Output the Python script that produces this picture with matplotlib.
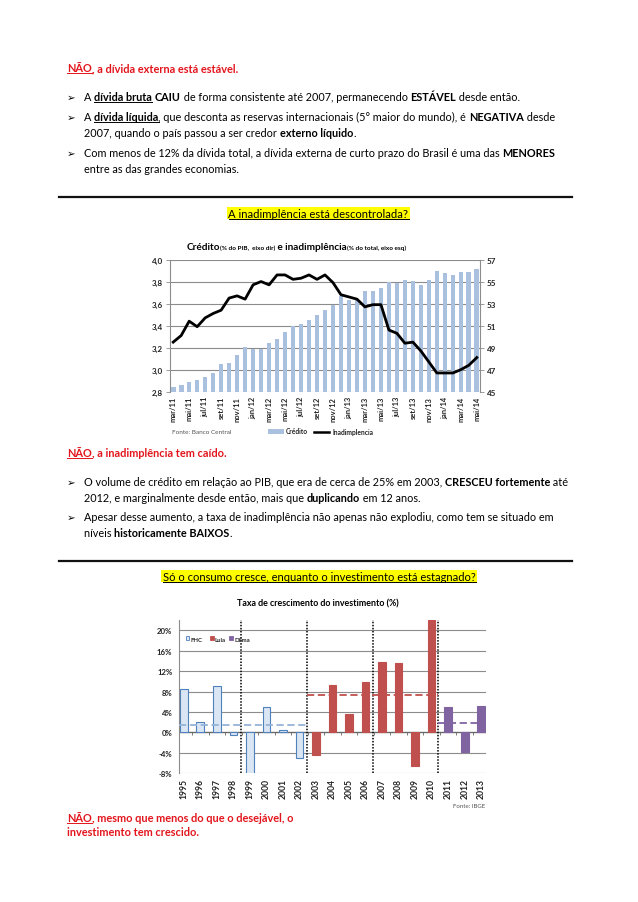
import matplotlib.pyplot as plt
from matplotlib.lines import Line2D
from matplotlib.patches import Rectangle

W, H = 638, 903
FONT = ['Lato', 'DejaVu Sans']
RED = '#e3151d'
plt.rcParams['font.family'] = FONT

# grafico 1: credito (% do PIB, eixo dir) e inadimplencia (%, eixo esq), mar/11 a mai/14
credito = [45.45, 45.64, 45.9, 46.1, 46.36, 46.7, 47.5, 47.6, 48.3, 49.1,
           48.9, 48.9, 49.4, 49.8, 50.45, 51.0, 51.1, 51.5, 52.0, 52.45,
           52.9, 53.7, 53.3, 53.4, 54.1, 54.1, 54.4, 55.0, 54.85, 55.1,
           55.05, 54.7, 55.1, 55.97, 55.8, 55.6, 55.9, 55.9, 56.1]
inadimplencia = [3.25, 3.31, 3.44, 3.39, 3.47, 3.51, 3.54, 3.65, 3.67, 3.64,
                 3.77, 3.80, 3.77, 3.86, 3.86, 3.82, 3.83, 3.86, 3.82, 3.86,
                 3.79, 3.68, 3.66, 3.64, 3.57, 3.59, 3.59, 3.36, 3.33, 3.24,
                 3.25, 3.17, 3.07, 2.97, 2.97, 2.97, 3.0, 3.04, 3.11]
meses_labels = ['mar/11', 'mai/11', 'jul/11', 'set/11', 'nov/11', 'jan/12', 'mar/12',
                'mai/12', 'jul/12', 'set/12', 'nov/12', 'jan/13', 'mar/13', 'mai/13',
                'jul/13', 'set/13', 'nov/13', 'jan/14', 'mar/14', 'mai/14']
esq_ticks = [2.8, 3.0, 3.2, 3.4, 3.6, 3.8, 4.0]
dir_ticks = [45, 47, 49, 51, 53, 55, 57]

# grafico 2: taxa de crescimento do investimento (%)
anos = ['1995', '1996', '1997', '1998', '1999', '2000', '2001', '2002', '2003', '2004',
        '2005', '2006', '2007', '2008', '2009', '2010', '2011', '2012', '2013']
investimento = [8.5, 2.0, 9.0, -0.5, -8.2, 5.0, 0.5, -5.0, -4.4, 9.2,
                3.7, 9.8, 13.8, 13.6, -6.6, 22.0, 4.9, -3.9, 5.2]
governo = ['FHC'] * 8 + ['Lula'] * 8 + ['Dilma'] * 3
media = {'FHC': 1.4, 'Lula': 7.3, 'Dilma': 1.8}
inv_ticks = [-8, -4, 0, 4, 8, 12, 16, 20]

fig = plt.figure(figsize=(W / 100, H / 100), dpi=100)
renderer = fig.canvas.get_renderer()


def fx(x):
    return x / W


def fy(y):
    return 1 - y / H


def text_w(s, size, bold):
    t = fig.text(0, 0, s, fontsize=size, fontweight='bold' if bold else 'normal')
    w = t.get_window_extent(renderer).width
    t.remove()
    return w


def run_w(s, size, bold):
    # avanço real do texto (inclui espaços nas pontas)
    return text_w('|' + s + '|', size, bold) - text_w('||', size, bold)


def runs_w(runs, size):
    return sum(run_w(r[0], r[3] if len(r) > 3 else size, r[1]) for r in runs)


def fit(runs, target, base=7.0):
    return base * target / runs_w(runs, base)


def rich(x, y, runs, size, color='black'):
    for r in runs:
        s, bold, ul = r[0], r[1], r[2]
        sz = r[3] if len(r) > 3 else size
        w = run_w(s, sz, bold)
        fig.text(fx(x), fy(y), s, fontsize=sz, color=color, va='baseline', ha='left',
                 fontweight='bold' if bold else 'normal')
        if ul:
            fig.add_artist(Line2D([fx(x), fx(x + w)], [fy(y + 1.8)] * 2, color=color, lw=0.7))
        x += w
    return x


def bullet(y, lines, size):
    fig.text(fx(67), fy(y), '\u27a2', fontsize=size * 0.95, family='DejaVu Sans',
             va='baseline', ha='left')
    for i, runs in enumerate(lines):
        rich(84, y + i * 16, runs, size)


def heading(cx, y, s, size):
    w = run_w(s, size, False)
    x0 = cx - w / 2
    fig.add_artist(Rectangle((fx(x0 - 1.5), fy(y + 2.6)), (w + 3) / W, 12.5 / H,
                             facecolor='#ffff00', edgecolor='none'))
    rich(x0, y, [(s, False, True)], size)


# ---------------- textos ----------------
b2l1 = [('A ', 0, 0), ('dívida líquida', 1, 1),
        (', que desconta as reservas internacionais (5° maior do mundo), é ', 0, 0),
        ('NEGATIVA', 1, 0), (' desde', 0, 0)]
BODY = fit(b2l1, 469)

h1 = [('NÃO', 1, 1), (', a dívida externa está estável.', 1, 0)]
rich(67, 72.3, h1, fit(h1, 172), RED)

bullet(101, [[('A ', 0, 0), ('dívida bruta', 1, 1), (' ', 0, 0), ('CAIU', 1, 0),
              (' de forma consistente até 2007, permanecendo ', 0, 0), ('ESTÁVEL', 1, 0),
              (' desde então.', 0, 0)]], BODY)
bullet(120.7, [b2l1, [('2007, quando o país passou a ser credor ', 0, 0),
                      ('externo líquido', 1, 0), ('.', 0, 0)]], BODY)
bullet(156.7, [[('Com menos de 12% da dívida total, a dívida externa de curto prazo do Brasil é uma das ', 0, 0),
                ('MENORES', 1, 0)],
               [('entre as das grandes economias.', 0, 0)]], BODY)

fig.add_artist(Line2D([fx(59), fx(572)], [fy(197.7)] * 2, color='#111111', lw=1.6))
s1 = 'A inadimplência está descontrolada?'
heading(318.5, 217.7, s1, fit([(s1, 0, 0)], 179))

h2 = [('NÃO', 1, 1), (', a inadimplência tem caído.', 1, 0)]
rich(67, 457.3, h2, fit(h2, 160), RED)
bullet(486, [[('O volume de crédito em relação ao PIB, que era de cerca de 25% em 2003, ', 0, 0),
              ('CRESCEU fortemente', 1, 0), (' até', 0, 0)],
             [('2012, e marginalmente desde então, mais que ', 0, 0), ('duplicando', 1, 0),
              (' em 12 anos.', 0, 0)]], BODY)
bullet(520.7, [[('Apesar desse aumento, a taxa de inadimplência não apenas não explodiu, como tem se situado em', 0, 0)],
               [('níveis ', 0, 0), ('historicamente BAIXOS', 1, 0), ('.', 0, 0)]], BODY)

fig.add_artist(Line2D([fx(59), fx(572)], [fy(561.7)] * 2, color='#111111', lw=1.6))
s2 = 'Só o consumo cresce, enquanto o investimento está estagnado?'
heading(319.2, 580.7, s2, fit([(s2, 0, 0)], 312))

h3a = [('NÃO', 1, 1), (', mesmo que menos do que o desejável, o', 1, 0)]
H3 = fit(h3a, 229)
rich(67, 821.7, h3a, H3, RED)
rich(67, 836.5, [('investimento tem crescido.', 1, 0)], H3, RED)

# ---------------- grafico 1 ----------------
GRID = '#8c8c8c'
TICK = '#222222'
x1 = list(range(len(credito)))
ax1 = fig.add_axes([fx(170), fy(392.7), (480 - 170) / W, (392.7 - 260.5) / H])
ax1r = ax1.twinx()
ax1r.bar(x1, credito, width=0.58, color='#a9c0de', zorder=2)
ax1r.set_ylim(45, 57)
ax1r.set_yticks(dir_ticks)
ax1r.set_yticklabels([str(v) for v in dir_ticks])
ax1r.grid(axis='y', color=GRID, lw=0.8)
ax1r.set_axisbelow(True)
ax1.plot(x1, inadimplencia, color='black', lw=2.0, solid_joinstyle='round', zorder=3)
ax1.set_ylim(2.8, 4.0)
ax1.set_yticks(esq_ticks)
ax1.set_yticklabels([f'{v:.1f}'.replace('.', ',') for v in esq_ticks])
ax1.set_zorder(ax1r.get_zorder() + 1)
ax1.patch.set_visible(False)
ax1.set_xlim(-0.4, 38.4)
ax1.set_xticks(x1[::2])
ax1.set_xticklabels(meses_labels, rotation=90, va='top', ha='center')
for a in (ax1, ax1r):
    for sp in a.spines.values():
        sp.set_visible(False)
    a.tick_params(axis='y', length=3, width=0.6, color=GRID, labelsize=5.8,
                  labelcolor=TICK, pad=2)
    for lab in a.get_yticklabels():
        lab.set_fontweight('bold')
ax1.spines['left'].set_visible(True)
ax1.spines['left'].set_color(GRID)
ax1r.spines['right'].set_visible(True)
ax1r.spines['right'].set_color(GRID)
ax1.tick_params(axis='x', length=0, labelsize=5.4, labelcolor=TICK, pad=3)
for lab in ax1.get_xticklabels():
    lab.set_fontweight('bold')

t1 = [('Crédito', 1, 0, 7.2), ('(% do PIB,  eixo dir)', 1, 0, 4.6),
      (' e inadimplência', 1, 0, 7.2), ('(% do total, eixo esq)', 1, 0, 4.6)]
rich(296 - runs_w(t1, 7) / 2, 250, t1, 7)

fig.text(fx(172), fy(434.5), 'Fonte: Banco Central', fontsize=4.6, color='#555555',
         va='baseline')
fig.add_artist(Rectangle((fx(267.7), fy(434.5)), 16.3 / W, 4.5 / H,
                         facecolor='#a9c0de', edgecolor='none'))
fig.text(fx(286), fy(434.5), 'Crédito', fontsize=4.8, fontweight='bold', color=TICK,
         va='baseline')
fig.add_artist(Line2D([fx(314), fx(329)], [fy(432.5)] * 2, color='black', lw=1.8))
fig.text(fx(332), fy(434.5), 'Inadimplencia', fontsize=4.8, fontweight='bold', color=TICK,
         va='baseline')

# ---------------- grafico 2 ----------------
cores = {'FHC': '#dbe6f4', 'Lula': '#c0504d', 'Dilma': '#8064a2'}
bordas = {'FHC': '#4f81bd', 'Lula': '#c0504d', 'Dilma': '#8064a2'}
x2 = list(range(len(anos)))
ax2 = fig.add_axes([fx(179.3), fy(774.3), (485.7 - 179.3) / W, (774.3 - 621) / H])
ax2.bar(x2, investimento, width=0.46, color=[cores[g] for g in governo],
        edgecolor=[bordas[g] for g in governo], linewidth=0.8, zorder=2)
ax2.set_xlim(-0.27, 18.27)
ax2.set_ylim(-8, 22)
ax2.set_yticks(inv_ticks)
ax2.set_yticklabels([f'{v}%' for v in inv_ticks])
ax2.grid(axis='y', color=GRID, lw=0.8)
ax2.set_axisbelow(True)
for sp in ax2.spines.values():
    sp.set_visible(False)
ax2.spines['left'].set_visible(True)
ax2.spines['left'].set_color(GRID)
ax2.axhline(0, color='#666666', lw=0.9, zorder=1.5)
ax2.vlines([i + 0.5 for i in x2[:-1]], -0.45, 0, color='#666666', lw=0.6, zorder=1.5)

limites = [3.45, 7.47, 11.47, 15.4]
ax2.vlines(limites, -8, 22, colors='black', linestyles=(0, (1, 1)), lw=1.1, zorder=3)
ax2.hlines(media['FHC'], -0.27, limites[1], colors='#95b3d7', linestyles=(0, (4, 2)),
           lw=1.3, zorder=3)
ax2.hlines(media['Lula'], limites[1], limites[3], colors='#c0504d', linestyles=(0, (4, 2)),
           lw=1.3, zorder=3)
ax2.hlines(media['Dilma'], limites[3], 18.27, colors='#8064a2', linestyles=(0, (4, 2)),
           lw=1.3, zorder=3)

ax2.set_xticks(x2)
ax2.set_xticklabels(anos, rotation=90, va='top', ha='center')
ax2.tick_params(axis='x', length=0, labelsize=6.2, labelcolor=TICK, pad=3.5)
ax2.tick_params(axis='y', length=0, labelsize=5.6, labelcolor=TICK, pad=5)
for lab in ax2.get_xticklabels() + ax2.get_yticklabels():
    lab.set_fontweight('bold')

t2 = 'Taxa de crescimento do investimento (%)'
fig.text(fx(317.7), fy(606.7), t2, fontsize=fit([(t2, 1, 0)], 163), fontweight='bold',
         ha='center', va='baseline')

for nome, xp in (('FHC', 185.7), ('Lula', 210), ('Dilma', 229.3)):
    fig.add_artist(Rectangle((fx(xp), fy(641.3)), 3.8 / W, 4 / H,
                             facecolor=cores[nome], edgecolor=bordas[nome], lw=0.6))
    fig.text(fx(xp + 4.8), fy(641.5), nome, fontsize=4.3, fontweight='bold', color=TICK,
             va='baseline')

fig.text(fx(485), fy(808), 'Fonte: IBGE', fontsize=4.4, color='#555555', ha='right',
         va='baseline')

fig.savefig('out.png', dpi=100, facecolor='white')
